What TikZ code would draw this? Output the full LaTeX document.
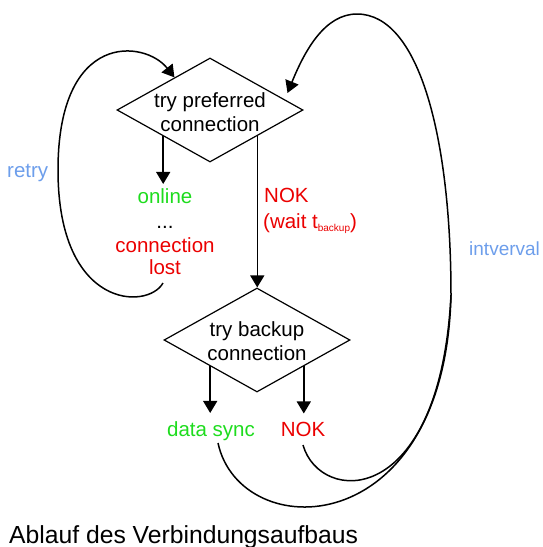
\documentclass[tikz,border=0pt]{standalone}
\usepackage{fontspec}
\setmainfont{Liberation Sans}
\usetikzlibrary{shapes.geometric,arrows.meta,calc}
\definecolor{okgreen}{RGB}{30,220,30}
\definecolor{nokred}{RGB}{235,0,0}
\definecolor{lblue}{RGB}{109,158,235}
\begin{document}
\begin{tikzpicture}[x=1pt,y=-1pt,
  dia/.style={diamond,draw,line width=1.2pt,minimum width=186pt,minimum height=104pt,inner sep=0pt},
  txt/.style={font=\fontsize{20.5}{24}\selectfont,inner sep=0pt,anchor=base},
  tgt/.style={txt,inner ysep=4pt},
  con/.style={line width=1.5pt,-{Triangle[width=14pt,length=12pt]}},
  plain/.style={line width=1.5pt}]
\useasboundingbox (0,0) rectangle (543,547);
% decision nodes
\node[dia] (d1) at (210,110) {};
\node[txt] (d1a) at (210,107) {try preferred};
\node[txt] (d1b) at (210,131) {connection};
\node[dia] (d2) at (257,340) {};
\node[txt] (d2a) at (257,336) {try backup};
\node[txt] (d2b) at (257,360) {connection};
% outcome texts
\node[tgt,text=okgreen] (on) at (165,203) {online};
\node[txt] (dots) at (165,228) {...};
\node[txt,text=nokred] (cl) at (165,252) {connection};
\node[txt,text=nokred] (lost) at (165,274) {lost};
\node[txt,text=nokred,anchor=base west] (nok1) at (264,202) {NOK};
\node[txt,text=nokred,anchor=base west] (nok1b) at (263,228) {(wait t\raisebox{-3pt}{\fontsize{10}{12}\selectfont backup})};
\node[tgt,text=okgreen] (ds) at (211,436) {data sync};
\node[tgt,text=nokred] (nok2) at (303,436) {NOK};
\node[txt,text=lblue,anchor=base west] (retry) at (7,177) {retry};
\node[txt,text=lblue,anchor=base west,font=\fontsize{19}{23}\selectfont] (intv) at (469,255) {intverval};
\node[anchor=base west,inner sep=0pt,font=\fontsize{24.7}{30}\selectfont] (cap) at (9,543) {Ablauf des Verbindungsaufbaus};
% straight connectors
\coordinate (a1) at ($(d1.west)!0.5!(d1.south)$);
\draw[con] (a1) -- (a1 |- on.north);
\coordinate (a2) at ($(d1.south)!0.505!(d1.east)$);
\draw[con] (a2) -- (a2 |- d2.north);
\coordinate (b1) at ($(d2.west)!0.5!(d2.south)$);
\draw[con,shorten >=4pt] (b1) -- (b1 |- ds.north);
\coordinate (b2) at ($(d2.south)!0.5!(d2.east)$);
\draw[con,shorten >=4pt] (b2) -- (b2 |- nok2.north);
% retry loop
\coordinate (r0) at (163,283);
\draw[con] (r0) .. controls (148,310) and (58,310) .. (58,170)
  .. controls (58,30) and (145,40) .. ($(d1.west)!0.62!(d1.north)$);
% interval loop
\coordinate (m) at (451,295);
\coordinate (i0) at (303,445);
\coordinate (i1) at (218,443);
\draw[plain] (i1) .. controls (240,545) and (445,545) .. (m);
\draw[con,shorten >=7pt] (i0) .. controls (320,505) and (440,510) .. (m)
  .. controls (451,140) and (420,14) .. (357,14)
  .. controls (325,14) and (305,50) .. ($(d1.north)!0.8!(d1.east)$);
\end{tikzpicture}
\end{document}
